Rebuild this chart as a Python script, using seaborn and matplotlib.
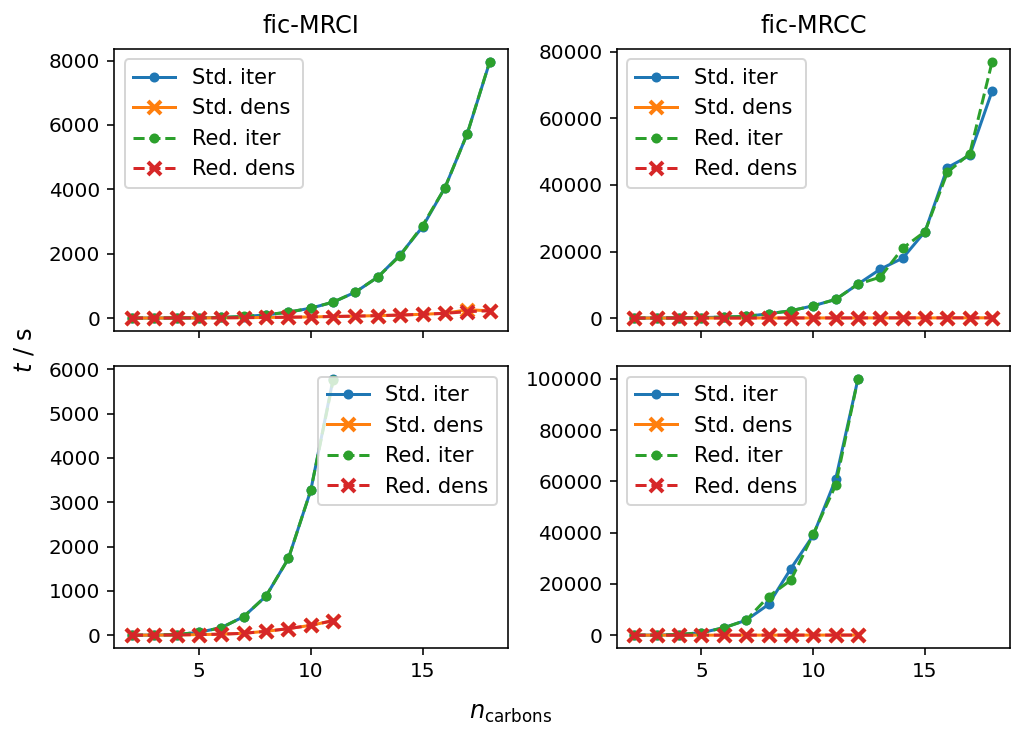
import matplotlib
matplotlib.use("Agg")
import matplotlib.pyplot as plt
import seaborn as sns
import pandas as pd

# ---- data ----
n_top = list(range(2, 19))
mrci_std_iter = [2, 4, 6, 10, 20, 50, 100, 185, 310, 495, 810, 1275, 1970, 2835, 4050, 5730, 7950]
mrci_red_iter = [2, 4, 6, 10, 20, 52, 104, 187, 311, 498, 810, 1277, 1941, 2875, 4048, 5730, 7961]
mrci_std_dens = [2, 3, 5, 7, 10, 15, 20, 28, 38, 50, 62, 78, 95, 120, 150, 260, 230]
mrci_red_dens = [2, 3, 5, 7, 10, 15, 20, 28, 38, 50, 62, 78, 95, 120, 150, 200, 230]

mrcc_std_iter = [10, 30, 80, 150, 300, 500, 1300, 2200, 3700, 5600, 10200, 14700, 18000, 26000, 45200, 48900, 68200]
mrcc_red_iter = [10, 30, 80, 150, 300, 500, 1300, 2200, 3700, 5600, 10200, 12300, 21000, 26000, 43800, 49400, 77000]
mrcc_std_dens = [5, 8, 12, 15, 20, 25, 30, 35, 40, 45, 50, 55, 60, 65, 70, 75, 80]
mrcc_red_dens = [5, 8, 12, 15, 20, 25, 30, 35, 40, 45, 50, 55, 60, 65, 70, 75, 80]

n_bl = list(range(2, 12))
bl_std_iter = [2, 5, 15, 68, 172, 420, 885, 1732, 3270, 5780]
bl_red_iter = [2, 5, 15, 68, 172, 420, 885, 1732, 3270, 5745]
bl_std_dens = [2, 4, 8, 15, 25, 45, 90, 150, 225, 330]
bl_red_dens = [2, 4, 8, 15, 25, 45, 90, 150, 225, 330]

n_br = list(range(2, 13))
br_std_iter = [20, 60, 260, 1000, 2900, 5850, 12000, 26000, 39000, 60800, 100000]
br_red_iter = [20, 60, 260, 1000, 2900, 5850, 15100, 21500, 39400, 58500, 100000]
br_std_dens = [5, 8, 12, 15, 20, 25, 30, 35, 40, 45, 50]
br_red_dens = [5, 8, 12, 15, 20, 25, 30, 35, 40, 45, 50]

labels = ["Std. iter", "Std. dens", "Red. iter", "Red. dens"]
colors = ["#1f77b4", "#ff7f0e", "#2ca02c", "#d62728"]
markers = ["o", "x", "o", "x"]
styles = ["-", "-", "--", "--"]

panels = [
    (n_top, [mrci_std_iter, mrci_std_dens, mrci_red_iter, mrci_red_dens], "upper left"),
    (n_top, [mrcc_std_iter, mrcc_std_dens, mrcc_red_iter, mrcc_red_dens], "upper left"),
    (n_bl, [bl_std_iter, bl_std_dens, bl_red_iter, bl_red_dens], "upper right"),
    (n_br, [br_std_iter, br_std_dens, br_red_iter, br_red_dens], "upper left"),
]

plt.rcParams["font.family"] = ["DejaVu Sans"]
fig, axes = plt.subplots(2, 2, figsize=(1011 / 144, 729 / 144), dpi=144, sharex=True)
fig.subplots_adjust(left=0.1128, right=0.999, top=0.9328, bottom=0.1111, wspace=0.277, hspace=0.125)

for ax, (x, series, loc) in zip(axes.flat, panels):
    for lab, y, c, m, ls in zip(labels, series, colors, markers, styles):
        df = pd.DataFrame({"n": x, "t": y})
        ms = 4 if m == "o" else 6.5
        mew = 1 if m == "o" else 2
        sns.lineplot(data=df, x="n", y="t", ax=ax, color=c, marker=m, linestyle=ls,
                     markersize=ms, markeredgewidth=mew, markeredgecolor=c,
                     label=lab, linewidth=1.5)
    ax.set_xlabel("")
    ax.set_ylabel("")
    ax.legend(loc=loc, fontsize=10.5)

axes[0, 0].set_title("fic-MRCI", fontsize=12, pad=8)
axes[0, 1].set_title("fic-MRCC", fontsize=12, pad=8)
axes[0, 0].set_xlim(1.2, 18.8)
axes[0, 0].set_xticks([5, 10, 15])
axes[0, 0].set_yticks([0, 2000, 4000, 6000, 8000])

fig.supxlabel(r"$n_{\mathrm{carbons}}$", x=0.505, y=0.005, fontsize=12)
fig.supylabel(r"$t$ / s", x=0.012, y=0.52, fontsize=12)

fig.savefig("out.png", dpi=144)
